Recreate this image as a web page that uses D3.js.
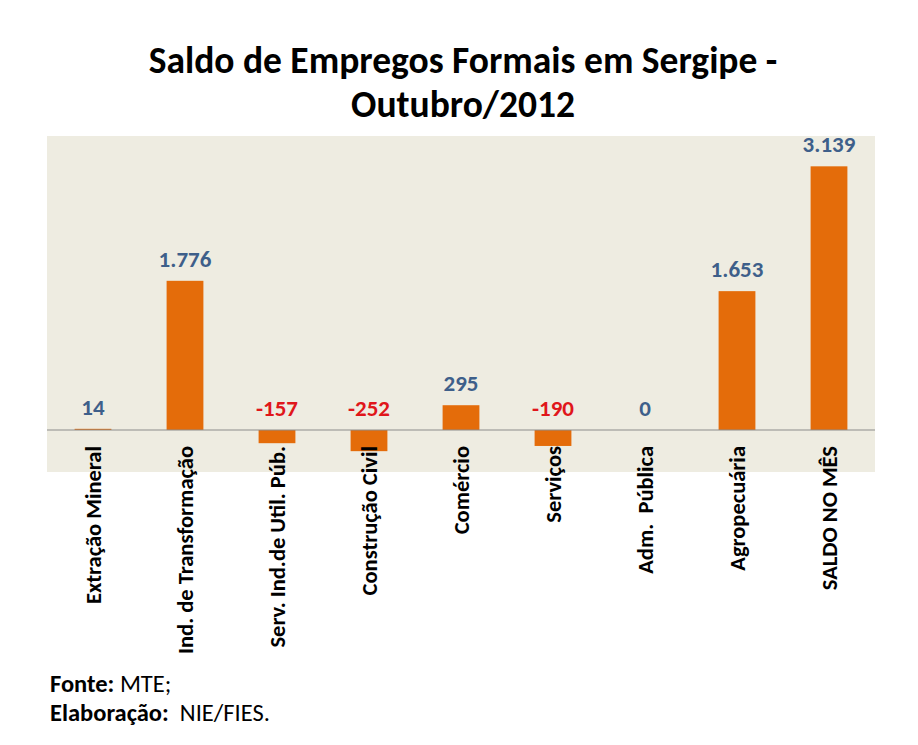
<!DOCTYPE html>
<html><head><meta charset="utf-8">
<script src="https://cdn.jsdelivr.net/npm/d3@7"></script>
<style>body{margin:0;background:#fff}svg{display:block}text{font-family:Carlito,Calibri,Lato,"Open Sans",sans-serif}</style>
</head><body>
<svg id="c" width="918" height="745"></svg>
<script>
const categories = ["Extração Mineral","Ind. de Transformação","Serv. Ind.de Util. Púb.","Construção Civil","Comércio","Serviços","Adm.  Pública","Agropecuária","SALDO NO MÊS"];
const values = [14,1776,-157,-252,295,-190,0,1653,3139];
const valueLabels = ["14","1.776","-157","-252","295","-190","0","1.653","3.139"];
const titleLines = ["Saldo de Empregos Formais em Sergipe -","Outubro/2012"];

const svg = d3.select("#c");
const plot = {left:47, right:875, top:136, bottom:472};
const x = d3.scaleBand().domain(categories).range([plot.left, plot.right]).paddingInner(0.6).paddingOuter(0.3);
const y = d3.scaleLinear().domain([-500,3500]).range([plot.bottom, plot.top]);

svg.append("rect").attr("x",plot.left).attr("y",plot.top).attr("width",plot.right-plot.left).attr("height",plot.bottom-plot.top).attr("fill","#EEECE1");

svg.selectAll("rect.bar").data(values).join("rect").attr("class","bar")
  .attr("x",(d,i)=>x(categories[i])).attr("width",x.bandwidth())
  .attr("y",d=>y(Math.max(0,d))).attr("height",d=>Math.abs(y(d)-y(0)))
  .attr("fill","#E46C0A");

svg.append("line").attr("x1",plot.left).attr("x2",plot.right).attr("y1",y(0)).attr("y2",y(0)).attr("stroke","#8C8C8C").attr("stroke-width",1.2);

svg.selectAll("text.val").data(values).join("text").attr("class","val")
  .attr("x",(d,i)=>x(categories[i])+x.bandwidth()/2)
  .attr("y",d=>y(Math.max(0,d))-14)
  .attr("text-anchor","middle").attr("font-weight","bold").attr("font-size",23)
  .attr("fill",d=>d<0?"#E0161B":"#3E5F8A")
  .text((d,i)=>valueLabels[i]);

// category axis labels
svg.selectAll("text.cat").data(categories).join("text").attr("class","cat")
  .attr("transform",d=>`translate(${x(d)+x.bandwidth()/2},446) rotate(-90)`)
  .attr("text-anchor","end").attr("dominant-baseline","central")
  .attr("font-weight","bold").attr("font-size",22.5).attr("fill","#000")
  .style("white-space","pre")
  .text(d=>d);

// title
svg.selectAll("text.title").data(titleLines).join("text").attr("class","title")
  .attr("x",463).attr("y",(d,i)=>73+i*44)
  .attr("text-anchor","middle").attr("font-weight","bold").attr("font-size",37.5).attr("fill","#000")
  .text(d=>d);

// footer
const f1 = svg.append("text").attr("x",50).attr("y",692).attr("font-size",24.5).attr("fill","#000");
f1.append("tspan").attr("font-weight","bold").text("Fonte: ");
f1.append("tspan").text("MTE;");
const f2 = svg.append("text").attr("x",50).attr("y",721).attr("font-size",24.5).attr("fill","#000").style("white-space","pre");
f2.append("tspan").attr("font-weight","bold").text("Elaboração: ");
f2.append("tspan").text(" NIE/FIES.");
</script>
</body></html>
